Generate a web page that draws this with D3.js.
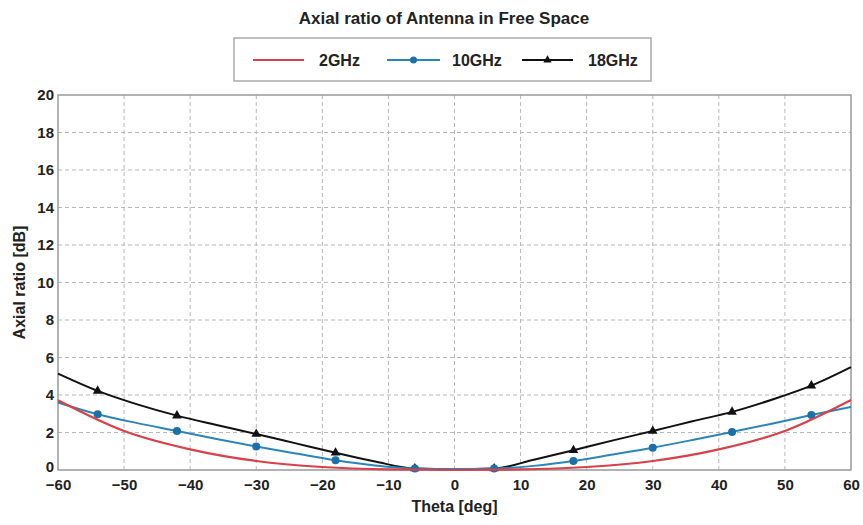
<!DOCTYPE html>
<html>
<head>
<meta charset="utf-8">
<script src="https://cdn.jsdelivr.net/npm/d3@7"></script>
<style>
  body { margin: 0; background: #fff; }
  text { font-family: "Liberation Sans", Arial, sans-serif; font-weight: bold; fill: #222; }
</style>
</head>
<body>
<div id="chart"></div>
<script>
// 2GHz curve, sampled every 10 deg
const theta2 = [-60, -50, -40, -30, -20, -10, 0, 10, 20, 30, 40, 50, 60];
const ar2GHz = [3.72, 2.08, 1.1, 0.48, 0.16, 0.03, 0.0, 0.03, 0.16, 0.48, 1.1, 2.08, 3.73];

// 10GHz and 18GHz, sampled every 6 deg (markers on -54, -42, ... 54)
const theta6 = [-60, -54, -48, -42, -36, -30, -24, -18, -12, -6, 0, 6, 12, 18, 24, 30, 36, 42, 48, 54, 60];
const ar10GHz = [3.6, 2.97, 2.5, 2.08, 1.65, 1.25, 0.88, 0.52, 0.24, 0.08, 0.05, 0.08, 0.22, 0.48, 0.83, 1.19, 1.6, 2.03, 2.47, 2.93, 3.36];
const ar18GHz = [5.14, 4.22, 3.5, 2.9, 2.4, 1.92, 1.42, 0.92, 0.45, 0.08, 0.05, 0.08, 0.55, 1.05, 1.58, 2.08, 2.6, 3.1, 3.75, 4.5, 5.49];
const markerTheta = [-54, -42, -30, -18, -6, 6, 18, 30, 42, 54];

const xTicks = [-60, -50, -40, -30, -20, -10, 0, 10, 20, 30, 40, 50, 60];
const yTicks = [0, 2, 4, 6, 8, 10, 12, 14, 16, 18, 20];
const seriesNames = ["2GHz", "10GHz", "18GHz"];

const W = 863, H = 525;
const margin = { left: 58, right: 12, top: 95, bottom: 55 };

const svg = d3.select("#chart").append("svg")
  .attr("width", W).attr("height", H);

const x = d3.scaleLinear().domain([-60, 60]).range([margin.left, W - margin.right]);
const y = d3.scaleLinear().domain([0, 20]).range([H - margin.bottom, margin.top]);

// grid
svg.append("g").selectAll("line").data(xTicks.slice(1, -1)).enter().append("line")
  .attr("x1", d => x(d)).attr("x2", d => x(d))
  .attr("y1", y(0)).attr("y2", y(20))
  .attr("stroke", "#b8b8b8").attr("stroke-dasharray", "4,3");
svg.append("g").selectAll("line").data(yTicks.slice(1, -1)).enter().append("line")
  .attr("y1", d => y(d)).attr("y2", d => y(d))
  .attr("x1", x(-60)).attr("x2", x(60))
  .attr("stroke", "#b8b8b8").attr("stroke-dasharray", "4,3");

// frame
svg.append("rect")
  .attr("x", x(-60)).attr("y", y(20))
  .attr("width", x(60) - x(-60)).attr("height", y(0) - y(20))
  .attr("fill", "none").attr("stroke", "#999").attr("stroke-width", 1.5);

// axes (labels only, the frame stands in for the domain line)
const xAxis = svg.append("g").attr("transform", `translate(0,${y(0)})`)
  .call(d3.axisBottom(x).tickValues(xTicks).tickSize(0).tickPadding(9));
const yAxis = svg.append("g").attr("transform", `translate(${x(-60)},0)`)
  .call(d3.axisLeft(y).tickValues(yTicks).tickSize(0).tickPadding(4));
[xAxis, yAxis].forEach(a => {
  a.select(".domain").remove();
  a.selectAll("text").style("font-size", "15px").attr("fill", "#222");
});
// the "0" sits just above the -60 label, as in the source
yAxis.selectAll("text").filter(d => d === 0).attr("dy", "0.1em");

// lines
const line2 = d3.line().x((d, i) => x(theta2[i])).y(d => y(d)).curve(d3.curveMonotoneX);
const line6 = d3.line().x((d, i) => x(theta6[i])).y(d => y(d)).curve(d3.curveMonotoneX);

svg.append("path").attr("d", line6(ar18GHz))
  .attr("fill", "none").attr("stroke", "#111").attr("stroke-width", 2);
svg.append("path").attr("d", line6(ar10GHz))
  .attr("fill", "none").attr("stroke", "#2a85b8").attr("stroke-width", 2);

const tri = d3.symbol().type(d3.symbolTriangle).size(40);
svg.append("g").selectAll("path").data(markerTheta).enter().append("path")
  .attr("d", tri)
  .attr("transform", d => `translate(${x(d)},${y(ar18GHz[theta6.indexOf(d)])})`)
  .attr("fill", "#111");
svg.append("g").selectAll("circle").data(markerTheta).enter().append("circle")
  .attr("cx", d => x(d)).attr("cy", d => y(ar10GHz[theta6.indexOf(d)]))
  .attr("r", 4).attr("fill", "#1b70a8");

svg.append("path").attr("d", line2(ar2GHz))
  .attr("fill", "none").attr("stroke", "#d8404a").attr("stroke-width", 2.2);

// title
svg.append("text").attr("x", 444).attr("y", 24).attr("text-anchor", "middle")
  .style("font-size", "17px").text("Axial ratio of Antenna in Free Space");

// axis titles
svg.append("text").attr("x", x(0)).attr("y", 512).attr("text-anchor", "middle")
  .style("font-size", "16px").text("Theta [deg]");
svg.append("text").attr("transform", `translate(25,${(y(0) + y(20)) / 2}) rotate(-90)`)
  .attr("text-anchor", "middle").style("font-size", "16px").text("Axial ratio [dB]");

// legend
const lg = svg.append("g");
lg.append("rect").attr("x", 234).attr("y", 38).attr("width", 417).attr("height", 43)
  .attr("fill", "#fff").attr("stroke", "#aaa").attr("stroke-width", 1.5);
const legendItems = [
  { name: seriesNames[0], color: "#d8404a", x0: 253, x1: 304, tx: 319, mark: null },
  { name: seriesNames[1], color: "#2a85b8", x0: 387, x1: 440, tx: 452, mark: "circle" },
  { name: seriesNames[2], color: "#111", x0: 522, x1: 573, tx: 588, mark: "tri" }
];
const ly = 60;
legendItems.forEach(it => {
  lg.append("line").attr("x1", it.x0).attr("x2", it.x1).attr("y1", ly).attr("y2", ly)
    .attr("stroke", it.color).attr("stroke-width", 2);
  const mx = (it.x0 + it.x1) / 2;
  if (it.mark === "circle") {
    lg.append("circle").attr("cx", mx).attr("cy", ly).attr("r", 3.5).attr("fill", "#1b70a8");
  } else if (it.mark === "tri") {
    lg.append("path").attr("d", d3.symbol().type(d3.symbolTriangle).size(30))
      .attr("transform", `translate(${mx},${ly})`).attr("fill", "#111");
  }
  lg.append("text").attr("x", it.tx).attr("y", ly + 6).style("font-size", "16px").text(it.name);
});
</script>
</body>
</html>
